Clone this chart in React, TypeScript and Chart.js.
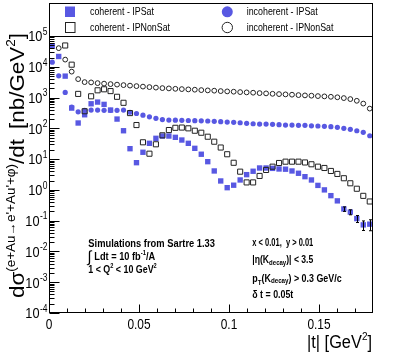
import React, { useEffect, useRef } from 'react';
import { Chart, registerables } from 'chart.js';

Chart.register(...registerables);

// |t| bin centres (GeV^2)
const tBinCenters = [
  0.0018, 0.0054, 0.009, 0.0126, 0.0162, 0.0198, 0.0234, 0.027, 0.0306, 0.0342,
  0.0378, 0.0414, 0.045, 0.0486, 0.0522, 0.0558, 0.0594, 0.063, 0.0666, 0.0702,
  0.0738, 0.0774, 0.081, 0.0846, 0.0882, 0.0918, 0.0954, 0.099, 0.1026, 0.1062,
  0.1098, 0.1134, 0.117, 0.1206, 0.1242, 0.1278, 0.1314, 0.135, 0.1386, 0.1422,
  0.1458, 0.1494, 0.153, 0.1566, 0.1602, 0.1638, 0.1674, 0.171, 0.1746, 0.1782,
];

const coherentIPSat = [
  48000, 21600, 4970, 455, 149, 276, 628, 713, 600, 393,
  200, 83.5, 21.8, 7.66, 16.7, 32.6, 47.4, 56.2, 56.2, 51,
  41.7, 32.6, 22.4, 14.4, 8.26, 4.12, 1.95, 1.18, 1.42, 2.1,
  3.13, 4.03, 5.15, 5.15, 5.0, 4.78, 4.7, 4.12, 3.47, 2.69,
  2.1, 1.4, 1.0, 0.65, 0.44, 0.24, 0.19, 0.117, 0.073, 0.077,
];

const coherentIPSatErr = [
  null, null, null, null, null, null, null, null, null, null,
  null, null, null, null, null, null, null, null, null, null,
  null, null, null, null, null, null, null, null, null, null,
  null, null, null, null, null, null, null, null, null, null,
  null, null, null, null, null, 0.04, 0.035, 0.03, 0.025, 0.03,
];

const coherentIPNonSat = [
  null, null, 49200, 11700, 1315, 359, 1099, 1721, 1855, 1622,
  1059, 676, 313, 128, 35.2, 15, 30.3, 59.3, 88, 104,
  106, 100, 83.6, 72, 53.4, 36.8, 23.8, 14.4, 7.6, 3.91,
  1.75, 1.75, 2.84, 4.44, 5.68, 7.48, 8.26, 8.26, 8.26, 7.78,
  6.8, 5.68, 5.15, 4.12, 3.3, 2.39, 1.64, 1.09, 0.64, 0.42,
];

const incoherentIPSat = [
  14100, 5080, 1472, 491, 345, 384, 392, 392, 384, 384,
  384, 392, 333, 303, 267, 237, 212, 192, 186, 184,
  182, 180, 178, 176, 173, 169, 164, 160, 157, 152,
  145, 141, 138, 138, 135, 131, 128, 128, 125, 125,
  121, 119, 116, 113, 108, 100, 92.8, 83.6, 74.1, 57.5,
];

const incoherentIPNonSat = [
  null, 40300, 17100, 6950, 3970, 3175, 3104, 2945, 2838, 2734,
  2635, 2537, 2445, 2355, 2270, 2187, 2106, 2029, 1983, 1924,
  1882, 1841, 1799, 1746, 1709, 1671, 1622, 1585, 1550, 1504,
  1471, 1438, 1396, 1365, 1325, 1296, 1267, 1239, 1202, 1175,
  1150, 1116, 1091, 1059, 1021, 961, 892, 785, 637, 438,
];

const xMajorTicks = [0, 0.05, 0.1, 0.15];
const xTickLabels = ['0', '0.05', '0.1', '0.15'];
const xMinorTicks = [0.01, 0.02, 0.03, 0.04, 0.06, 0.07, 0.08, 0.09, 0.11, 0.12, 0.13, 0.14, 0.16, 0.17];
const yDecades = [-4, -3, -2, -1, 0, 1, 2, 3, 4, 5];
const yMinorMultipliers = [2, 3, 4, 5, 6, 7, 8, 9];

const legendLabels = ['coherent - IPSat', 'coherent - IPNonSat', 'incoherent - IPSat', 'incoherent - IPNonSat'];

const BLUE = 'rgb(88,88,226)';
const DARK = '#222';
const FONT = "'Liberation Sans', 'DejaVu Sans', Arial, sans-serif";

type Run = { t: string; size: number; dy?: number; bold?: boolean; gap?: number };

function fontOf(r: Run) {
  return `${r.bold ? 'bold ' : ''}${r.size}px ${FONT}`;
}

function measureRuns(ctx: CanvasRenderingContext2D, runs: Run[]) {
  let w = 0;
  for (const r of runs) {
    ctx.font = fontOf(r);
    w += (r.gap || 0) + ctx.measureText(r.t).width;
  }
  return w;
}

function drawRuns(
  ctx: CanvasRenderingContext2D,
  runs: Run[],
  x: number,
  y: number,
  opt: { align?: string; width?: number; sx?: number; rotate?: boolean } = {}
) {
  const nat = measureRuns(ctx, runs);
  const sx = opt.width ? opt.width / nat : opt.sx ?? 1;
  const total = nat * sx;
  const align = opt.align || 'left';
  const start = align === 'right' ? -total : align === 'center' ? -total / 2 : 0;
  ctx.save();
  ctx.translate(x, y);
  if (opt.rotate) ctx.rotate(-Math.PI / 2);
  ctx.translate(start, 0);
  ctx.scale(sx, 1);
  ctx.fillStyle = '#000';
  ctx.textAlign = 'left';
  ctx.textBaseline = 'alphabetic';
  let cx = 0;
  for (const r of runs) {
    ctx.font = fontOf(r);
    cx += r.gap || 0;
    ctx.fillText(r.t, cx, r.dy || 0);
    cx += ctx.measureText(r.t).width;
  }
  ctx.restore();
}

const rootStylePlugin = {
  id: 'rootStyle',
  afterDatasetsDraw(chart: any) {
    const ctx: CanvasRenderingContext2D = chart.ctx;
    const { left, right, top, bottom } = chart.chartArea;
    const xs = chart.scales.x;
    const ys = chart.scales.y;

    ctx.save();
    // error bars
    ctx.strokeStyle = '#000';
    ctx.lineWidth = 1;
    coherentIPSatErr.forEach((e, i) => {
      if (e == null) return;
      const v = coherentIPSat[i];
      const px = Math.round(xs.getPixelForValue(tBinCenters[i])) + 0.5;
      const y1 = ys.getPixelForValue(v + e);
      const y2 = ys.getPixelForValue(Math.max(v - e, 1e-4));
      ctx.beginPath();
      ctx.moveTo(px, y1);
      ctx.lineTo(px, y2);
      ctx.moveTo(px - 1.5, y1);
      ctx.lineTo(px + 1.5, y1);
      ctx.moveTo(px - 1.5, y2);
      ctx.lineTo(px + 1.5, y2);
      ctx.stroke();
    });

    // frame
    const L = Math.round(left) + 0.5;
    const R = Math.round(right) - 0.5;
    const T = Math.round(top) + 0.5;
    const B = Math.round(bottom) - 0.5;
    ctx.strokeRect(L, T, R - L, B - T);

    // x ticks
    ctx.beginPath();
    xMajorTicks.forEach((v) => {
      const px = Math.round(xs.getPixelForValue(v)) + 0.5;
      ctx.moveTo(px, B);
      ctx.lineTo(px, B - 8);
    });
    xMinorTicks.forEach((v) => {
      const px = Math.round(xs.getPixelForValue(v)) + 0.5;
      ctx.moveTo(px, B);
      ctx.lineTo(px, B - 4);
    });
    // y ticks
    yDecades.forEach((e) => {
      const py = Math.round(ys.getPixelForValue(Math.pow(10, e))) + 0.5;
      ctx.moveTo(L, py);
      ctx.lineTo(L + 10, py);
      if (e < 5) {
        yMinorMultipliers.forEach((m) => {
          const pm = Math.round(ys.getPixelForValue(m * Math.pow(10, e))) + 0.5;
          ctx.moveTo(L, pm);
          ctx.lineTo(L + 5, pm);
        });
      }
    });
    ctx.stroke();

    // x tick labels
    xMajorTicks.forEach((v, i) => {
      drawRuns(ctx, [{ t: xTickLabels[i], size: 14 }], xs.getPixelForValue(v), 328.5, { align: 'center', sx: 0.85 });
    });
    // y tick labels
    yDecades.forEach((e) => {
      const py = ys.getPixelForValue(Math.pow(10, e));
      drawRuns(
        ctx,
        [
          { t: '10', size: 15 },
          { t: e < 0 ? '-' + Math.abs(e) : String(e), size: 10, dy: -6.5, gap: 0.5 },
        ],
        47.5,
        py + 5.3,
        { align: 'right', sx: 0.85 }
      );
    });

    // axis titles
    drawRuns(
      ctx,
      [
        { t: '|t| [GeV', size: 18 },
        { t: '2', size: 11, dy: -8 },
        { t: ']', size: 18 },
      ],
      372,
      348,
      { align: 'right', width: 65 }
    );
    drawRuns(
      ctx,
      [
        { t: 'd\u03c3', size: 20 },
        { t: "(e+Au\u2192e'+Au'+\u03c6)", size: 12, dy: -9 },
        { t: '/dt', size: 20 },
        { t: '[nb/GeV', size: 20, gap: 9 },
        { t: '2', size: 12, dy: -9 },
        { t: ']', size: 20 },
      ],
      24,
      33,
      { align: 'right', rotate: true, width: 265 }
    );

    // legend box
    ctx.strokeRect(L, 3.5, R - L, T - 3.5);
    ctx.fillStyle = BLUE;
    ctx.fillRect(65, 6.5, 10, 10.5);
    ctx.strokeStyle = DARK;
    ctx.strokeRect(65.5, 22.5, 9.5, 10);
    ctx.beginPath();
    ctx.arc(227.3, 11.8, 5.5, 0, Math.PI * 2);
    ctx.fill();
    ctx.beginPath();
    ctx.arc(227.3, 27.5, 5.2, 0, Math.PI * 2);
    ctx.stroke();
    drawRuns(ctx, [{ t: legendLabels[0], size: 11 }], 90, 15.2, { width: 64 });
    drawRuns(ctx, [{ t: legendLabels[1], size: 11 }], 90, 31, { width: 80 });
    drawRuns(ctx, [{ t: legendLabels[2], size: 11 }], 246.7, 15.2, { width: 71 });
    drawRuns(ctx, [{ t: legendLabels[3], size: 11 }], 246.7, 31, { width: 86.7 });

    // annotation text (left)
    drawRuns(ctx, [{ t: 'Simulations from Sartre 1.33', size: 11, bold: true }], 88.3, 246.5, { width: 126.7 });
    drawRuns(ctx, [{ t: '\u222b', size: 16 }], 87.5, 261.5, { sx: 0.9 });
    drawRuns(
      ctx,
      [
        { t: 'Ldt = 10 fb', size: 11, bold: true },
        { t: '-1', size: 7, bold: true, dy: -5 },
        { t: '/A', size: 11, bold: true },
      ],
      94.3,
      259.5,
      { sx: 0.84 }
    );
    drawRuns(
      ctx,
      [
        { t: '1 < Q', size: 11, bold: true },
        { t: '2', size: 7, bold: true, dy: -5 },
        { t: ' < 10 GeV', size: 11, bold: true },
        { t: '2', size: 7, bold: true, dy: -5 },
      ],
      88.3,
      273.3,
      { width: 68.4 }
    );

    // annotation text (right)
    drawRuns(ctx, [{ t: 'x < 0.01,  y > 0.01', size: 10, bold: true }], 252.3, 246, { width: 61 });
    drawRuns(
      ctx,
      [
        { t: '|\u03b7(K', size: 10, bold: true },
        { t: 'decay', size: 7, bold: true, dy: 1.5 },
        { t: ')| < 3.5', size: 10, bold: true },
      ],
      252.3,
      263.3,
      { width: 61 }
    );
    drawRuns(
      ctx,
      [
        { t: 'p', size: 10, bold: true },
        { t: 'T', size: 7, bold: true, dy: 3 },
        { t: '(K', size: 10, bold: true },
        { t: 'decay', size: 7, bold: true, dy: 1.5 },
        { t: ') > 0.3 GeV/c', size: 10, bold: true },
      ],
      252.3,
      281.7,
      { width: 89.3 }
    );
    drawRuns(ctx, [{ t: '\u03b4 t = 0.05t', size: 10, bold: true }], 252.3, 298.3, { width: 41 });

    ctx.restore();
  },
};

function toPoints(values: (number | null)[]) {
  const pts: { x: number; y: number }[] = [];
  values.forEach((v, i) => {
    if (v != null) pts.push({ x: tBinCenters[i], y: v });
  });
  return pts;
}

export default function App() {
  const canvasRef = useRef<HTMLCanvasElement | null>(null);

  useEffect(() => {
    if (!canvasRef.current) return;
    const chart = new Chart(canvasRef.current, {
      type: 'scatter',
      data: {
        datasets: [
          {
            label: legendLabels[3],
            data: toPoints(incoherentIPNonSat),
            pointStyle: 'circle',
            pointRadius: 2.4,
            backgroundColor: 'rgba(0,0,0,0)',
            borderColor: DARK,
            borderWidth: 1,
          },
          {
            label: legendLabels[1],
            data: toPoints(coherentIPNonSat),
            pointStyle: 'rect',
            pointRadius: 3.6,
            backgroundColor: 'rgba(0,0,0,0)',
            borderColor: DARK,
            borderWidth: 1,
          },
          {
            label: legendLabels[2],
            data: toPoints(incoherentIPSat),
            pointStyle: 'circle',
            pointRadius: 2.6,
            backgroundColor: BLUE,
            borderWidth: 0,
          },
          {
            label: legendLabels[0],
            data: toPoints(coherentIPSat),
            pointStyle: 'rect',
            pointRadius: 3.8,
            backgroundColor: BLUE,
            borderWidth: 0,
          },
        ],
      },
      options: {
        animation: false,
        responsive: false,
        devicePixelRatio: 1,
        events: [],
        layout: { padding: { left: 49, top: 36, right: 42, bottom: 44 } },
        plugins: { legend: { display: false }, tooltip: { enabled: false } },
        scales: {
          x: { type: 'linear', min: 0, max: 0.18, display: false },
          y: { type: 'logarithmic', min: 1e-4, max: 1e5, display: false },
        },
      },
      plugins: [rootStylePlugin],
    });
    return () => chart.destroy();
  }, []);

  return (
    <div style={{ position: 'fixed', left: 0, top: 0, width: 415, height: 357, background: '#fff' }}>
      <canvas ref={canvasRef} width={415} height={357} style={{ display: 'block' }} />
    </div>
  );
}
